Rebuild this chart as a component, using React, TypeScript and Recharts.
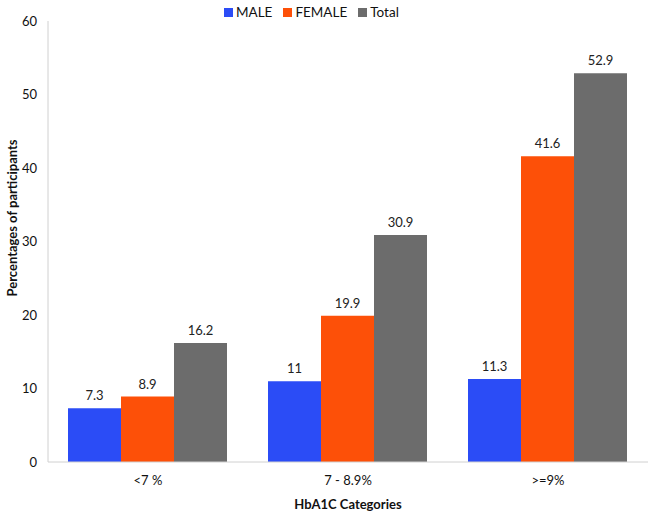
import { BarChart, Bar, XAxis, YAxis, Legend, LabelList, Label } from 'recharts';

const categories = ['<7 %', '7 - 8.9%', '>=9%'];
const maleValues = [7.3, 11, 11.3];
const femaleValues = [8.9, 19.9, 41.6];
const totalValues = [16.2, 30.9, 52.9];
const yTicks = [0, 10, 20, 30, 40, 50, 60];
const seriesNames = ['MALE', 'FEMALE', 'Total'];

const FONT = 'Lato, "Open Sans", sans-serif';
const COLORS: Record<string, string> = { MALE: '#2B4CF6', FEMALE: '#FD5008', Total: '#6C6C6C' };

const data = categories.map((name, i) => ({
  name,
  MALE: maleValues[i],
  FEMALE: femaleValues[i],
  Total: totalValues[i],
}));

function YTitle() {
  return (
    <text
      x={14}
      y={218}
      transform="rotate(-90 14 218)"
      textAnchor="middle"
      dominantBaseline="middle"
      style={{ fontFamily: FONT, fontSize: 13, fontWeight: 700, fill: '#111' }}
    >
      Percentages of participants
    </text>
  );
}

function LegendContent() {
  return (
    <div style={{ display: 'flex', alignItems: 'center', gap: 11, fontFamily: FONT, fontSize: 13.5, color: '#111' }}>
      {seriesNames.map((n) => (
        <span key={n} style={{ display: 'flex', alignItems: 'center', gap: 3 }}>
          <span style={{ width: 9, height: 9, background: COLORS[n], display: 'inline-block' }} />
          {n}
        </span>
      ))}
    </div>
  );
}

export default function App() {
  return (
    <div style={{ position: 'absolute', left: 0, top: 0, background: '#fff' }}>
      <BarChart
        width={650}
        height={512}
        data={data}
        margin={{ top: 5, right: 2, left: 0, bottom: 0 }}
        barCategoryGap="10%"
        barGap={0}
      >
        <XAxis
          dataKey="name"
          height={50}
          tickLine={false}
          tickSize={0}
          tickMargin={14}
          axisLine={{ stroke: '#d0d0d0' }}
          tick={{ fill: '#111', fontSize: 13, fontFamily: FONT }}
        >
          <Label
            value="HbA1C Categories"
            position="insideBottom"
            offset={3}
            style={{ fontFamily: FONT, fontSize: 13, fontWeight: 700, fill: '#111' }}
          />
        </XAxis>
        <YAxis
          width={48}
          domain={[0, 60]}
          ticks={yTicks}
          tickLine={false}
          tickSize={0}
          tickMargin={11}
          axisLine={{ stroke: '#d0d0d0' }}
          tick={{ fill: '#111', fontSize: 13, fontFamily: FONT }}
        >
          <Label content={<YTitle />} />
        </YAxis>
        <Legend
          verticalAlign="top"
          align="left"
          content={<LegendContent />}
          wrapperStyle={{ top: 4, left: 224, width: 'auto', lineHeight: '16px' }}
        />
        {seriesNames.map((n) => (
          <Bar key={n} dataKey={n} fill={COLORS[n]} isAnimationActive={false}>
            <LabelList dataKey={n} position="top" offset={8} style={{ fill: '#222', fontSize: 13, fontFamily: FONT }} />
          </Bar>
        ))}
      </BarChart>
    </div>
  );
}
